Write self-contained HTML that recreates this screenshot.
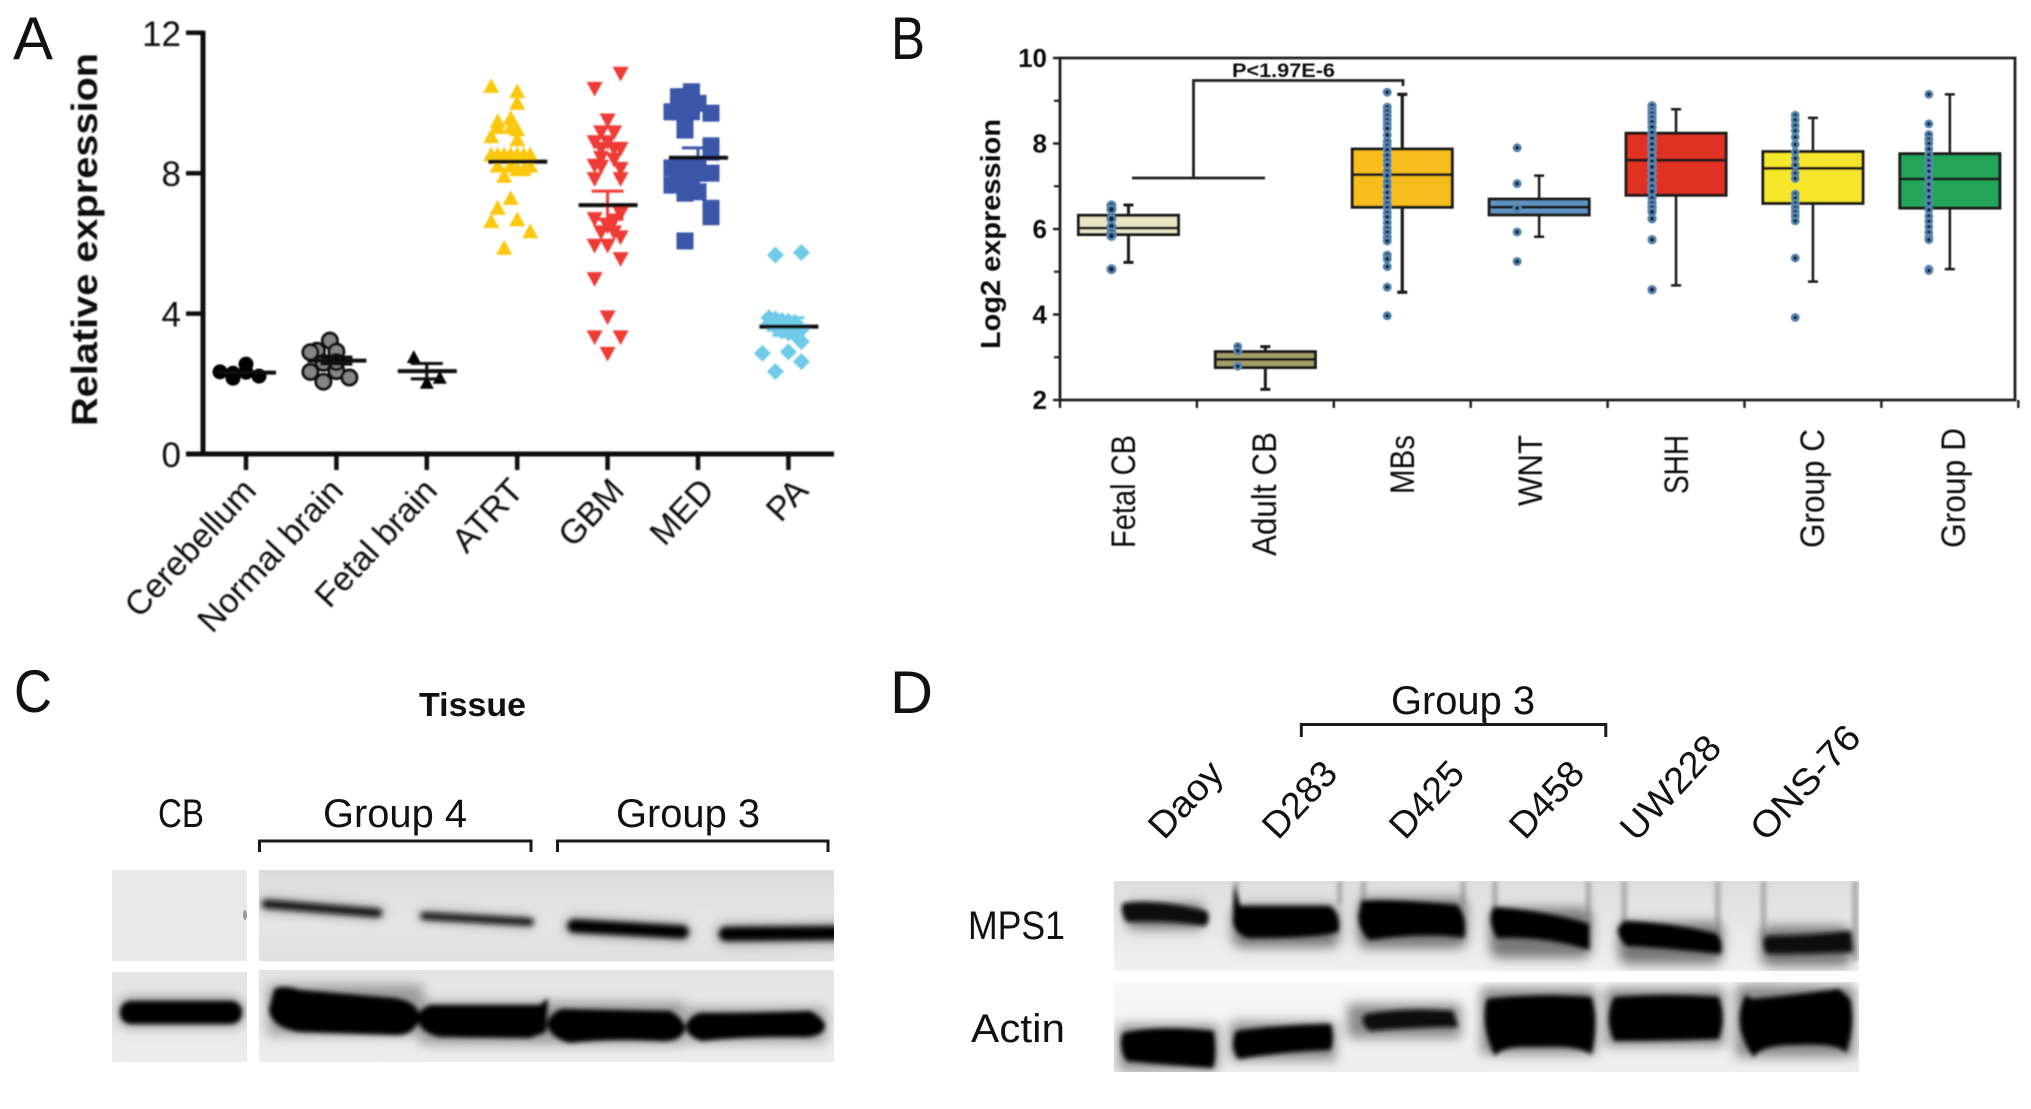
<!DOCTYPE html>
<html lang="en">
<head>
<meta charset="utf-8">
<title>MPS1 expression figure</title>
<style>
html,body{margin:0;padding:0;background:#fff;width:2031px;height:1109px;overflow:hidden}
svg{display:block}
text{font-family:"Liberation Sans",sans-serif;fill:#111}
</style>
</head>
<body>
<svg id="fig" xmlns="http://www.w3.org/2000/svg" width="2031" height="1109" viewBox="0 0 2031 1109">
<defs>
<filter id="soft" x="-5%" y="-5%" width="110%" height="110%"><feGaussianBlur stdDeviation="0.8"/></filter>
<filter id="softer" x="-5%" y="-5%" width="110%" height="110%"><feGaussianBlur stdDeviation="0.5"/></filter>
<filter id="b1" x="-20%" y="-100%" width="140%" height="300%"><feGaussianBlur stdDeviation="2.4"/></filter>
<filter id="b2" x="-20%" y="-100%" width="140%" height="300%"><feGaussianBlur stdDeviation="3"/></filter>
<filter id="b3" x="-20%" y="-100%" width="140%" height="300%"><feGaussianBlur stdDeviation="6"/></filter>
<linearGradient id="grad-c-top" x1="0" x2="0" y1="0" y2="1"><stop offset="0" stop-color="#dcdcdc"/><stop offset="0.6" stop-color="#e6e6e6"/><stop offset="1" stop-color="#e0e0e0"/></linearGradient>
<linearGradient id="grad-c-low" x1="0" x2="0" y1="0" y2="1"><stop offset="0" stop-color="#e4e4e4"/><stop offset="1" stop-color="#ededed"/></linearGradient>
<linearGradient id="grad-d-top" x1="0" x2="0" y1="0" y2="1"><stop offset="0" stop-color="#dedede"/><stop offset="1" stop-color="#f1f1f1"/></linearGradient>
<linearGradient id="grad-d-low" x1="0" x2="0" y1="0" y2="1"><stop offset="0" stop-color="#f8f8f8"/><stop offset="1" stop-color="#eeeeee"/></linearGradient>
<clipPath id="clip-c-top"><rect x="259" y="870" width="575" height="91"/></clipPath>
<clipPath id="clip-c-low"><rect x="259" y="970" width="575" height="92"/></clipPath>
<clipPath id="clip-c-left"><rect x="112" y="972" width="135" height="90"/></clipPath>
<clipPath id="clip-d-top"><rect x="1115" y="881" width="749" height="90"/></clipPath>
<clipPath id="clip-d-low"><rect x="1115" y="982" width="749" height="90"/></clipPath>
</defs>
<rect width="2031" height="1109" fill="#fff"/>

<g fill="#1a1a1a">
<text x="13" y="59" font-size="60" textLength="40" lengthAdjust="spacingAndGlyphs">A</text>
<text x="891" y="59" font-size="60" textLength="34" lengthAdjust="spacingAndGlyphs">B</text>
<text x="14" y="712" font-size="60" textLength="38" lengthAdjust="spacingAndGlyphs">C</text>
<text x="890" y="713" font-size="60" textLength="43" lengthAdjust="spacingAndGlyphs">D</text>
</g>

<!-- Panel A -->
<g id="panel-a" filter="url(#soft)">
<text transform="translate(97,426) rotate(-90)" font-size="36" font-weight="bold" textLength="373" lengthAdjust="spacingAndGlyphs">Relative expression</text>
<g font-size="34">
<text text-anchor="end" transform="translate(258,492) rotate(-47)">Cerebellum</text>
<text text-anchor="end" transform="translate(345,492) rotate(-47)">Normal brain</text>
<text text-anchor="end" transform="translate(439,492) rotate(-47)">Fetal brain</text>
<text text-anchor="end" transform="translate(525,492) rotate(-47)">ATRT</text>
<text text-anchor="end" transform="translate(626,492) rotate(-47)">GBM</text>
<text text-anchor="end" transform="translate(716,492) rotate(-47)">MED</text>
<text text-anchor="end" transform="translate(810,492) rotate(-47)">PA</text>
</g>
</g>

<!-- Panel B -->
<g id="panel-b" filter="url(#softer)">
<text transform="translate(1000,349) rotate(-90)" font-size="28" font-weight="bold" textLength="230" lengthAdjust="spacingAndGlyphs">Log2 expression</text>
<text x="1232" y="77" font-size="19" font-weight="bold" textLength="103" lengthAdjust="spacingAndGlyphs">P&lt;1.97E-6</text>
<g font-size="34">
<text transform="translate(1135,548) rotate(-90)" textLength="113" lengthAdjust="spacingAndGlyphs">Fetal CB</text>
<text transform="translate(1276,556) rotate(-90)" textLength="124" lengthAdjust="spacingAndGlyphs">Adult CB</text>
<text transform="translate(1414,494) rotate(-90)" textLength="59" lengthAdjust="spacingAndGlyphs">MBs</text>
<text transform="translate(1542,506) rotate(-90)" textLength="71" lengthAdjust="spacingAndGlyphs">WNT</text>
<text transform="translate(1688,494) rotate(-90)" textLength="59" lengthAdjust="spacingAndGlyphs">SHH</text>
<text transform="translate(1824,548) rotate(-90)" textLength="119" lengthAdjust="spacingAndGlyphs">Group C</text>
<text transform="translate(1965,548) rotate(-90)" textLength="120" lengthAdjust="spacingAndGlyphs">Group D</text>
</g>
</g>

<!-- Panel C -->
<g id="panel-c">
<text x="419" y="716" font-size="33" font-weight="bold" textLength="107" lengthAdjust="spacingAndGlyphs">Tissue</text>
<g font-size="40">
<text x="158" y="827" textLength="46" lengthAdjust="spacingAndGlyphs">CB</text>
<text x="323" y="827" textLength="144" lengthAdjust="spacingAndGlyphs">Group 4</text>
<text x="616" y="827" textLength="144" lengthAdjust="spacingAndGlyphs">Group 3</text>
</g>
<path d="M259.500 852V841H531V852" fill="none" stroke="#1a1a1a" stroke-width="3"/>
<path d="M557.500 852V841H828V852" fill="none" stroke="#1a1a1a" stroke-width="3"/>

<rect x="112" y="870" width="135" height="91" fill="#e9e9e9"/>
<ellipse cx="245" cy="915" rx="2" ry="5" fill="#999"/>
<rect x="259" y="870" width="575" height="91" fill="url(#grad-c-top)"/>
<g clip-path="url(#clip-c-top)">
<g filter="url(#b3)" fill="none" stroke="#999" stroke-linecap="round">
<path d="M266 904L378 913" stroke-width="12"/>
<path d="M424 916L530 922" stroke-width="10"/>
<path d="M574 926L682 932" stroke-width="18"/>
<path d="M726 934L840 933" stroke-width="20"/>
</g>
<g filter="url(#b2)" fill="none" stroke="#111" stroke-linecap="round">
<path d="M266 904L378 913" stroke-width="8"/>
<path d="M424 916L530 922" stroke-width="7"/>
<path d="M574 926L682 932" stroke-width="13" stroke="#000"/>
<path d="M726 934L840 933" stroke-width="14" stroke="#000"/>
</g>
</g>

<rect x="112" y="972" width="135" height="90" fill="url(#grad-c-low)"/>
<rect x="259" y="970" width="575" height="92" fill="url(#grad-c-low)"/>
<g clip-path="url(#clip-c-left)">
<rect x="118" y="997" width="126" height="30" rx="12" fill="#999" filter="url(#b3)"/>
<rect x="120" y="1001" width="122" height="23" rx="11" fill="#000" filter="url(#b1)"/>
</g>
<g clip-path="url(#clip-c-low)">
<g filter="url(#b3)" fill="#999">
<rect x="268" y="985" width="155" height="50"/>
<rect x="420" y="1002" width="265" height="42"/>
<rect x="688" y="1008" width="138" height="34"/>
</g>
<g filter="url(#b1)" fill="#000">
<path d="M274 990Q280 984 300 990L395 998Q419 1002 420 1018Q414 1036 395 1035L300 1032Q272 1028 269 1010Z"/>
<path d="M432 1005L540 1005L548 998L546 1032L530 1038L440 1037Q418 1032 418 1018Q420 1007 432 1005Z"/>
<path d="M562 1009L670 1011Q686 1020 685 1030Q680 1042 660 1041Q610 1038 570 1043Q550 1038 547 1024Q550 1013 562 1009Z"/>
<path d="M700 1013Q760 1013 810 1011Q826 1020 825 1028Q820 1038 800 1037Q750 1036 702 1041Q686 1036 686 1026Q688 1017 700 1013Z"/>
</g>
</g>
</g>

<!-- Panel D -->
<g id="panel-d">
<text x="1391" y="714" font-size="40" textLength="144" lengthAdjust="spacingAndGlyphs">Group 3</text>
<g font-size="37">
<text transform="translate(1164,841) rotate(-47)" textLength="90" lengthAdjust="spacingAndGlyphs">Daoy</text>
<text transform="translate(1278,841) rotate(-47)" textLength="90" lengthAdjust="spacingAndGlyphs">D283</text>
<text transform="translate(1405,841) rotate(-47)" textLength="90" lengthAdjust="spacingAndGlyphs">D425</text>
<text transform="translate(1525,841) rotate(-47)" textLength="90" lengthAdjust="spacingAndGlyphs">D458</text>
<text transform="translate(1636,843) rotate(-47)" textLength="128" lengthAdjust="spacingAndGlyphs">UW228</text>
<text transform="translate(1766,843) rotate(-47)" textLength="142" lengthAdjust="spacingAndGlyphs">ONS-76</text>
</g>
<text x="968" y="939" font-size="40" textLength="97" lengthAdjust="spacingAndGlyphs">MPS1</text>
<text x="971" y="1042" font-size="40" textLength="94" lengthAdjust="spacingAndGlyphs">Actin</text>

<g transform="translate(880 0) scale(.9949 1) translate(-880 0)">
<path d="M1303.500 737V724.500H1609.500V737M1488 724.500V718" fill="none" stroke="#1a1a1a" stroke-width="3"/>

<rect x="1115" y="881" width="749" height="90" fill="url(#grad-d-top)"/>
<g clip-path="url(#clip-d-top)">
<g filter="url(#b1)" fill="none" stroke="#a5a5a5" stroke-width="5">
<path d="M1238 881V910M1342 881V905M1366 881V905M1466 881V905M1498 881V915M1592 881V925M1628 881V925M1722 881V935M1768 881V940M1860 881V960"/>
</g>
<g filter="url(#b3)" fill="#777">
<rect x="1128" y="903" width="78" height="26" rx="8"/>
<rect x="1234" y="905" width="108" height="42" rx="10"/>
<rect x="1360" y="898" width="110" height="50" rx="10"/>
<rect x="1493" y="908" width="102" height="50" rx="10"/>
<rect x="1622" y="922" width="105" height="42" rx="10"/>
<rect x="1765" y="926" width="92" height="40" rx="10"/>
</g>
<g filter="url(#b1)" fill="#000">
<path d="M1124 903Q1160 899 1208 911Q1213 918 1207 926Q1170 920 1128 922Q1121 912 1124 903Z" fill="#111"/>
<path d="M1236 885L1242 906H1332Q1343 914 1341 931Q1330 938 1250 938Q1235 933 1235 920Z"/>
<path d="M1364 901Q1400 899 1460 905Q1471 918 1467 938Q1430 932 1372 940Q1361 930 1361 916Z"/>
<path d="M1497 907Q1550 911 1593 924L1593 950Q1550 936 1500 938Q1493 926 1494 915Z"/>
<path d="M1628 921Q1680 923 1721 934Q1728 942 1725 954Q1670 948 1630 946Q1621 936 1622 928Z"/>
<path d="M1770 936Q1810 936 1856 931L1858 952Q1810 954 1772 954Q1765 946 1770 936Z" fill="#0c0c0c"/>
</g>
</g>

<rect x="1115" y="982" width="749" height="90" fill="url(#grad-d-low)"/>
<g clip-path="url(#clip-d-low)">
<path d="M1780 982H1864V990Q1820 984 1780 982Z" fill="#fff"/>
<g filter="url(#b3)" fill="#888">
<rect x="1120" y="1025" width="100" height="45"/>
<rect x="1232" y="1022" width="106" height="38"/>
<rect x="1350" y="1004" width="114" height="34"/>
<rect x="1484" y="988" width="116" height="66"/>
<rect x="1609" y="988" width="120" height="58"/>
<rect x="1740" y="985" width="120" height="72"/>
</g>
<g filter="url(#b1)" fill="#000">
<path d="M1124 1033Q1160 1025 1215 1031Q1219 1050 1215 1068Q1170 1065 1128 1061Q1119 1048 1124 1033Z"/>
<path d="M1238 1031Q1280 1025 1333 1024Q1337 1038 1333 1050Q1290 1051 1240 1059Q1231 1046 1238 1031Z"/>
<path d="M1368 1014Q1410 1007 1456 1011L1461 1027Q1420 1027 1372 1031Q1361 1022 1368 1014Z" fill="#111"/>
<path d="M1490 999Q1540 993 1595 997Q1603 1020 1595 1055Q1585 1045 1540 1047Q1505 1045 1498 1056Q1483 1025 1490 999Z"/>
<path d="M1618 997Q1670 993 1723 997Q1731 1018 1723 1039Q1670 1041 1618 1041Q1607 1018 1618 997Z"/>
<path d="M1750 995L1756 999Q1800 995 1844 989L1855 999Q1861 1025 1851 1053Q1845 1043 1800 1045Q1765 1045 1758 1057Q1735 1025 1750 995Z"/>
</g>
</g>
</g>
</g>

<script>
// ---------- Panel A data ----------
const scatterCategories = ["Cerebellum", "Normal brain", "Fetal brain", "ATRT", "GBM", "MED", "PA"];
const scatterTicks = [0, 4, 8, 12];
const scatterMeans = [2.32, 2.66, 2.36, 8.33, 7.09, 8.44, 3.63];
const scatterErrors = [0, 0.1, 0.22, 0.2, 0.4, 0.28, 0.25];
const cerebellumValues = [2.34, 2.3, 2.16, 2.56, 2.33, 2.22];
const cerebellumSlots = [-4, -2, -2, 0, 0, 2];
const normalBrainValues = [3.23, 2.94, 2.92, 2.9, 2.6, 2.34, 2.36, 2.18, 2.06, 2.62];
const normalBrainSlots = [-1, -3, 0, -4, -2, -4, 0, 2, -2, 0];
const fetalBrainValues = [2.75, 2.02, 2.16];
const fetalBrainSlots = [-2, 0, 2];
const atrtValues = [10.47, 10.32, 9.99, 9.56, 9.47, 9.3, 9.3, 9.23, 9.04, 8.95, 8.52, 8.52, 8.52, 8.52, 8.52, 8.52, 8.52, 8.2, 8.2, 8.2, 8.1, 8.1, 7.91, 7.28, 7.0, 6.67, 6.62, 6.33, 5.86];
const atrtSlots = [-4, 0, 0, -1, -3, -3, -1, 0, -4, 0, -4, -3, -2, -1, 0, 1, 2, -3, -1, 2, 0, 1, -2, -1, -3, 0, -4, 2, -2];
const gbmValues = [10.85, 10.42, 9.52, 9.18, 9.18, 8.9, 8.9, 8.71, 8.71, 8.71, 8.45, 8.4, 8.23, 8.2, 8.14, 7.85, 7.85, 6.86, 6.71, 6.67, 6.5, 6.33, 6.33, 6.19, 5.95, 5.95, 5.57, 5.0, 3.91, 3.34, 3.34, 2.87];
const gbmSlots = [2, -2, 0, -1, 1, -2, 0, -1, 1, 2, -1, 1, -2, -1, 2, -2, 2, 2, -2, 1, 0, -1, 1, 2, -2, 0, 2, -2, 0, -2, 2, 0];
const medValues = [10.32, 10.18, 10.18, 9.99, 9.99, 9.75, 9.75, 9.75, 9.75, 9.71, 9.4, 9.23, 8.78, 8.6, 8.15, 8.15, 8.15, 8.15, 8.15, 8.0, 8.0, 7.95, 7.9, 7.7, 7.7, 7.66, 7.66, 7.47, 7.43, 7.0, 6.76, 6.07];
const medSlots = [-1, -3, -2, 0, -1, -4, -3, -2, -1, 2, -2, -2, 2, 2, -4, -3, -2, -1, 0, 0, 2, -1, -3, -3, -2, -4, -1, 0, -2, 2, 2, -2];
const paValues = [5.74, 5.67, 3.88, 3.85, 3.8, 3.78, 3.75, 3.7, 3.62, 3.6, 3.55, 3.5, 3.45, 3.4, 3.2, 2.91, 2.87, 2.63, 2.35];
const paSlots = [2, -2, -3, -2, -1, 0, 1, -3, -2, 0, 2, -1, 0, 1, 2, 0, -4, 2, -2];

// ---------- Panel B data ----------
const boxCategories = ["Fetal CB", "Adult CB", "MBs", "WNT", "SHH", "Group C", "Group D"];
const boxMajorTicks = [2, 4, 6, 8, 10];
const boxMinorTicks = [3, 5, 7, 9];
const boxQ1 = [5.87, 2.76, 6.51, 6.33, 6.79, 6.6, 6.49];
const boxMedian = [6.02, 2.95, 7.27, 6.51, 7.61, 7.42, 7.17];
const boxQ3 = [6.32, 3.13, 7.87, 6.7, 8.24, 7.81, 7.76];
const whiskerLow = [5.22, 2.25, 4.52, 5.82, 4.68, 4.77, 5.06];
const whiskerHigh = [6.56, 3.25, 9.15, 7.25, 8.8, 8.6, 9.15];
const fetalCbDots = [6.55, 6.46, 6.24, 6.06, 5.92, 5.84, 5.06];
const adultCbDots = [3.25, 3.15, 2.79];
const mbsDots = [9.2, 8.85, 8.75, 8.65, 8.55, 8.45, 8.35, 8.2, 8.05, 7.95, 7.85, 7.72, 7.6, 7.5, 7.35, 7.25, 7.1, 7.0, 6.85, 6.72, 6.6, 6.5, 6.38, 6.28, 6.15, 6.02, 5.92, 5.8, 5.72, 5.39, 5.3, 5.12, 4.64, 3.97];
const wntDots = [7.9, 7.06, 6.49, 5.93, 5.24];
const shhDots = [8.88, 8.78, 8.7, 8.6, 8.5, 8.38, 8.25, 8.12, 7.98, 7.85, 7.72, 7.58, 7.45, 7.3, 7.15, 7.0, 6.88, 6.72, 6.6, 6.5, 6.4, 6.24, 5.75, 4.58];
const groupCDots = [8.66, 8.55, 8.42, 8.3, 8.15, 7.98, 7.8, 7.65, 7.5, 7.3, 7.18, 6.82, 6.72, 6.6, 6.5, 6.4, 6.3, 6.19, 5.32, 3.93];
const groupDDots = [9.15, 8.46, 8.21, 8.1, 8.0, 7.87, 7.74, 7.6, 7.48, 7.35, 7.2, 7.05, 6.9, 6.75, 6.6, 6.45, 6.3, 6.18, 6.05, 5.92, 5.8, 5.75, 5.06, 5.03];

const NS = "http://www.w3.org/2000/svg";
function make(parent, tag, attrs) {
  const el = document.createElementNS(NS, tag);
  for (const k in attrs) el.setAttribute(k, attrs[k]);
  parent.appendChild(el);
  return el;
}
function slug(s) { return s.toLowerCase().replace(/\s+/g, "-"); }

// ---------- Panel A ----------
const panelA = document.getElementById("panel-a");
function xA(category, slot) { return 246 + category * 90.4 + (slot || 0) * 6.5; }
function yA(v) { return 454 - 35.1 * v; }

function trianglePoints(x, y, h, dir) {
  return (x) + "," + (y - dir * h * 1.05) + " " + (x + h) + "," + (y + dir * h * 0.8) + " " + (x - h) + "," + (y + dir * h * 0.8);
}
function drawSwarm(category, values, slots, shape, fill) {
  values.forEach(function (v, i) {
    const x = xA(category, slots[i]);
    const y = yA(v);
    let m;
    if (shape === "circle") {
      m = make(panelA, "circle", { cx: x, cy: y, r: 7.5, fill: "#000" });
    } else if (shape === "ring") {
      m = make(panelA, "circle", { cx: x, cy: y, r: 7.5, fill: "#858585", stroke: "#111", "stroke-width": 3 });
    } else if (shape === "up") {
      m = make(panelA, "polygon", { points: trianglePoints(x, y, fill === "#000" ? 7 : 8, 1), fill: fill });
    } else if (shape === "down") {
      m = make(panelA, "polygon", { points: trianglePoints(x, y, 8, -1), fill: fill });
    } else if (shape === "square") {
      m = make(panelA, "rect", { x: x - 8.5, y: y - 8.5, width: 17, height: 17, fill: fill });
    } else {
      m = make(panelA, "polygon", { points: x + "," + (y - 8.5) + " " + (x + 8.5) + "," + y + " " + x + "," + (y + 8.5) + " " + (x - 8.5) + "," + y, fill: fill });
    }
    
    
  });
}
drawSwarm(0, cerebellumValues, cerebellumSlots, "circle", "#000");
drawSwarm(1, normalBrainValues, normalBrainSlots, "ring", "#858585");
drawSwarm(2, fetalBrainValues, fetalBrainSlots, "up", "#000");
drawSwarm(3, atrtValues, atrtSlots, "up", "#fcc70a");
drawSwarm(4, gbmValues, gbmSlots, "down", "#ee3a34");
drawSwarm(5, medValues, medSlots, "square", "#3a55a8");
drawSwarm(6, paValues, paSlots, "diamond", "#70cbe8");

const errorColors = ["#000", "#111", "#111", "#fcc70a", "#ee3a34", "#3a55a8", "#70cbe8"];
scatterCategories.forEach(function (name, i) {
  const cx = xA(i, 0);
  if (scatterErrors[i] > 0) {
    const hi = yA(scatterMeans[i] + scatterErrors[i]);
    const lo = yA(scatterMeans[i] - scatterErrors[i]);
    const err = make(panelA, "path", { d: "M" + (cx - 16) + " " + hi + "H" + (cx + 16) + "M" + cx + " " + hi + "V" + lo + "M" + (cx - 16) + " " + lo + "H" + (cx + 16), fill: "none", stroke: errorColors[i], "stroke-width": 3 });
    
    
  }
  const mean = make(panelA, "line", { x1: cx - 29, x2: cx + 30, y1: yA(scatterMeans[i]), y2: yA(scatterMeans[i]), stroke: "#111", "stroke-width": 4 });
  
  
  const tick = make(panelA, "line", { x1: cx, x2: cx, y1: yA(0), y2: 470, stroke: "#111", "stroke-width": 4.5 });
  
  
});
const axisAY = make(panelA, "line", { x1: 203, x2: 203, y1: yA(12) - 2, y2: yA(0) + 2.5, stroke: "#111", "stroke-width": 5 });


const axisAX = make(panelA, "line", { x1: 186, x2: 834, y1: yA(0), y2: yA(0), stroke: "#111", "stroke-width": 5 });


scatterTicks.forEach(function (t) {
  const tick = make(panelA, "line", { x1: 186, x2: 203, y1: yA(t), y2: yA(t), stroke: "#111", "stroke-width": 4.5 });
  
  
  const label = make(panelA, "text", { x: 181, y: yA(t) + 13, "text-anchor": "end", "font-size": 35 });
  label.textContent = String(t);
  
  
});

// ---------- Panel B ----------
const panelB = document.getElementById("panel-b");
function xB(category) { return 1060 + (category + 0.5) * 136.9; }
function yB(v) { return 400 - (v - 2) * 42.75; }

const frame = make(panelB, "path", { d: "M1060 " + yB(10) + "H2015V" + yB(2) + "H1060Z", fill: "none", stroke: "#222", "stroke-width": 2.8 });


boxMajorTicks.forEach(function (t) {
  const tick = make(panelB, "line", { x1: 1053, x2: 1060, y1: yB(t), y2: yB(t), stroke: "#222", "stroke-width": 2.5 });
  
  
  const label = make(panelB, "text", { x: 1047, y: yB(t) + 9, "text-anchor": "end", "font-size": 26, "font-weight": "bold" });
  label.textContent = String(t);
  
  
});
boxMinorTicks.forEach(function (t) {
  const tick = make(panelB, "line", { x1: 1054, x2: 1060, y1: yB(t), y2: yB(t), stroke: "#222", "stroke-width": 2.2 });
  
  
});
for (let i = 0; i <= boxCategories.length; i++) {
  const bx = xB(i - 0.5);
  const tick = make(panelB, "line", { x1: bx, x2: bx, y1: yB(2), y2: 408, stroke: "#222", "stroke-width": 2.5 });
  
  
}

function drawBox(i, fill, strokeW) {
  const cx = xB(i);
  const w = make(panelB, "path", { d: "M" + cx + " " + yB(whiskerLow[i]) + "V" + yB(whiskerHigh[i]) + "M" + (cx - 5) + " " + yB(whiskerLow[i]) + "H" + (cx + 5) + "M" + (cx - 5) + " " + yB(whiskerHigh[i]) + "H" + (cx + 5), fill: "none", stroke: "#1a1a1a", "stroke-width": strokeW });
  
  
  const b = make(panelB, "rect", { x: cx - 50, y: yB(boxQ3[i]), width: 100, height: yB(boxQ1[i]) - yB(boxQ3[i]), fill: fill, stroke: "#1f1f1a", "stroke-width": 3 });
  
  
  const m = make(panelB, "line", { x1: cx - 50, x2: cx + 50, y1: yB(boxMedian[i]), y2: yB(boxMedian[i]), stroke: "#1f1f1a", "stroke-width": 2.8 });
  
  
}
function drawDots(i, values, offset, radius) {
  const x = xB(i) + offset;
  values.forEach(function (v) {
    const d = make(panelB, "circle", { cx: x, cy: yB(v), r: radius, fill: "#0c2440", stroke: "#5685ad", "stroke-width": 2.6 });
    
    
  });
}
drawBox(0, "#e8e4c4", 3);
drawBox(1, "#a59d68", 3);
drawBox(2, "#f6bd1c", 3.2);
drawBox(3, "#5f92c0", 2.5);
drawBox(4, "#e03222", 2.5);
drawBox(5, "#f6e72a", 2.5);
drawBox(6, "#21a558", 2.5);
drawDots(0, fetalCbDots, -17, 3.8);
drawDots(1, adultCbDots, -27.6, 3.2);
drawDots(2, mbsDots, -15, 3.2);
drawDots(3, wntDots, -22, 3.2);
drawDots(4, shhDots, -24, 3.4);
drawDots(5, groupCDots, -17.7, 3.1);
drawDots(6, groupDDots, -21, 3.1);

const sigBar = make(panelB, "path", { d: "M1132 178H1265M1193.500 178V80.500H1403V86", fill: "none", stroke: "#222", "stroke-width": 2.8 });


</script>
</svg>
</body>
</html>
